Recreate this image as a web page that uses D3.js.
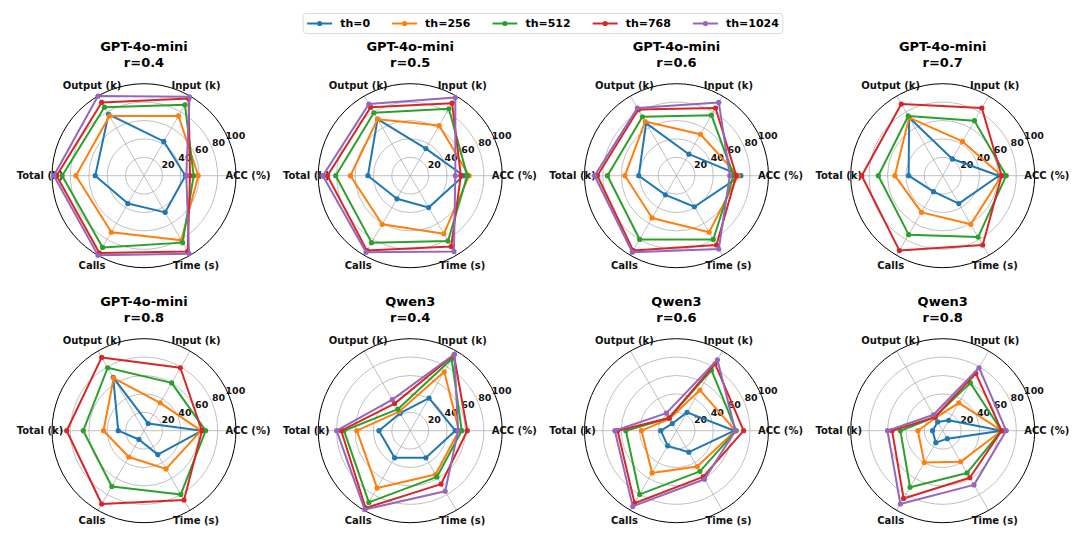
<!DOCTYPE html>
<html>
<head>
<meta charset="utf-8">
<script src="https://cdn.jsdelivr.net/npm/d3@7"></script>
<style>
  body { margin: 0; background: #fff; }
  svg { font-family: "DejaVu Sans", sans-serif; font-weight: bold; }
</style>
</head>
<body>
<svg id="chart" width="1080" height="543"></svg>
<script>
// axes of every radar, counter-clockwise from 3 o'clock
const axes = ['ACC (%)', 'Input (k)', 'Output (k)', 'Total (k)', 'Calls', 'Time (s)'];
const thresholds = ['th=0', 'th=256', 'th=512', 'th=768', 'th=1024'];
const colors = ['#1f77b4', '#ff7f0e', '#2ca02c', '#d62728', '#9467bd'];
const rTicks = [20, 40, 60, 80, 100];

// one row per threshold: [ACC, Input, Output, Total, Calls, Time]
const gptR04 = [
  [45, 43, 77, 53, 35, 46],
  [59, 75, 75, 74, 71, 81],
  [54, 89, 86, 89, 90, 84],
  [50, 97, 92, 95, 97, 95],
  [46, 99, 100, 98, 100, 98]
];
const gptR05 = [
  [58, 34, 71, 46, 29, 40],
  [64, 63, 71, 65, 61, 73],
  [62, 84, 79, 81, 84, 82],
  [55, 91, 86, 90, 94, 89],
  [49, 98, 90, 95, 96, 95]
];
const gptR06 = [
  [70, 27, 66, 41, 24, 39],
  [67, 52, 68, 56, 53, 71],
  [62, 76, 74, 75, 80, 80],
  [65, 85, 83, 86, 94, 87],
  [58, 92, 85, 89, 96, 92]
];
const gptR07 = [
  [61, 21, 73, 37, 20, 35],
  [64, 43, 73, 52, 46, 61],
  [69, 69, 75, 70, 74, 77],
  [64, 85, 90, 88, 94, 87],
  null
];
const gptR08 = [
  [63, 9, 67, 28, 11, 30],
  [62, 35, 66, 44, 33, 48],
  [67, 60, 79, 66, 70, 80],
  [63, 79, 92, 84, 92, 87],
  null
];
const qwenR04 = [
  [49, 41, 22, 34, 34, 34],
  [53, 74, 24, 58, 72, 55],
  [56, 90, 27, 72, 90, 58],
  [62, 95, 34, 75, 97, 67],
  [52, 96, 39, 80, 99, 76]
];
const qwenR06 = [
  [63, 23, 9, 17, 19, 27],
  [64, 51, 15, 38, 53, 45],
  [65, 76, 16, 55, 80, 51],
  [73, 84, 16, 64, 91, 58],
  [64, 89, 22, 67, 95, 61]
];
const qwenR08 = [
  [64, 13, 11, 11, 15, 10],
  [64, 35, 16, 27, 40, 39],
  [64, 60, 17, 46, 71, 53],
  [64, 72, 17, 55, 85, 59],
  [69, 79, 20, 60, 92, 68]
];

const models = ['GPT-4o-mini', 'GPT-4o-mini', 'GPT-4o-mini', 'GPT-4o-mini',
                'GPT-4o-mini', 'Qwen3', 'Qwen3', 'Qwen3'];
const ratios = ['0.4', '0.5', '0.6', '0.7', '0.8', '0.4', '0.6', '0.8'];
const panelData = [gptR04, gptR05, gptR06, gptR07, gptR08, qwenR04, qwenR06, qwenR08];

const svg = d3.select('#chart');

const colX = d3.scaleLinear().domain([0, 3]).range([144, 942.7]);
const rowY = d3.scaleLinear().domain([0, 1]).range([175.7, 430.7]);
const rScale = d3.scaleLinear().domain([0, 100]).range([0, 92]);
const angle = d3.scaleLinear().domain([0, axes.length]).range([0, 2 * Math.PI]);

// d3 radial angle: 0 at 12 o'clock, clockwise
function radial(i) {
  return Math.PI / 2 - angle(i);
}

function px(i, r) {
  return [r * Math.cos(angle(i)), -r * Math.sin(angle(i))];
}

const line = d3.lineRadial()
  .angle((d, i) => radial(i))
  .radius(d => rScale(d))
  .curve(d3.curveLinearClosed);

function drawPanel(k) {
  const g = svg.append('g')
    .attr('transform', `translate(${colX(k % 4)},${rowY(Math.floor(k / 4))})`);

  // rings
  g.selectAll('circle.ring')
    .data(rTicks.slice(0, -1))
    .enter().append('circle')
    .attr('r', d => rScale(d))
    .attr('fill', 'none')
    .attr('stroke', '#b0b0b0')
    .attr('stroke-width', 0.8);

  // spokes
  axes.forEach((a, i) => {
    const p = px(i, rScale(100));
    g.append('line')
      .attr('x1', 0).attr('y1', 0)
      .attr('x2', p[0]).attr('y2', p[1])
      .attr('stroke', '#b0b0b0')
      .attr('stroke-width', 0.8);
  });

  g.append('circle')
    .attr('r', rScale(100))
    .attr('fill', 'none')
    .attr('stroke', '#000')
    .attr('stroke-width', 1);

  // radial tick labels
  const la = 24 * Math.PI / 180;
  rTicks.forEach(t => {
    const r = rScale(t) + 8;
    g.append('text')
      .attr('x', r * Math.cos(la))
      .attr('y', -r * Math.sin(la))
      .attr('text-anchor', 'middle')
      .attr('dominant-baseline', 'central')
      .attr('font-size', 9.5)
      .attr('fill', '#111')
      .text(t);
  });

  // axis labels
  axes.forEach((a, i) => {
    const p = px(i, 104);
    g.append('text')
      .attr('x', p[0]).attr('y', p[1])
      .attr('text-anchor', 'middle')
      .attr('dominant-baseline', 'central')
      .attr('font-size', 10)
      .attr('fill', '#111')
      .text(a);
  });

  // titles
  g.append('text')
    .attr('y', -129)
    .attr('text-anchor', 'middle')
    .attr('dominant-baseline', 'central')
    .attr('font-size', 13)
    .text(models[k]);
  g.append('text')
    .attr('y', -113.4)
    .attr('text-anchor', 'middle')
    .attr('dominant-baseline', 'central')
    .attr('font-size', 13)
    .text('r=' + ratios[k]);

  // series
  panelData[k].forEach((vals, s) => {
    if (!vals) return;
    g.append('path')
      .attr('d', line(vals))
      .attr('fill', 'none')
      .attr('stroke', colors[s])
      .attr('stroke-width', 2)
      .attr('stroke-linejoin', 'round');
    g.selectAll(null)
      .data(vals)
      .enter().append('circle')
      .attr('cx', (d, i) => px(i, rScale(d))[0])
      .attr('cy', (d, i) => px(i, rScale(d))[1])
      .attr('r', 2.6)
      .attr('fill', colors[s]);
  });
}

function drawLegend() {
  const lg = svg.append('g');
  const box = lg.append('rect')
    .attr('fill', '#fff')
    .attr('stroke', '#d0d0d0')
    .attr('stroke-width', 0.8)
    .attr('rx', 3);
  let x = 0;
  const items = lg.append('g');
  thresholds.forEach((t, i) => {
    const it = items.append('g').attr('transform', `translate(${x},0)`);
    it.append('line')
      .attr('x1', 0).attr('x2', 25)
      .attr('stroke', colors[i])
      .attr('stroke-width', 2);
    it.append('circle')
      .attr('cx', 12.5).attr('r', 2.6)
      .attr('fill', colors[i]);
    const tx = it.append('text')
      .attr('x', 33)
      .attr('dominant-baseline', 'central')
      .attr('font-size', 11)
      .text(t);
    x += 33 + tx.node().getComputedTextLength() + 22;
  });
  const w = x - 22 + 8;
  const left = 543 - w / 2;
  items.attr('transform', `translate(${left + 4},23.5)`);
  box.attr('x', left).attr('y', 13.5).attr('width', w).attr('height', 20);
}

d3.range(panelData.length).forEach(drawPanel);
drawLegend();
</script>
</body>
</html>
